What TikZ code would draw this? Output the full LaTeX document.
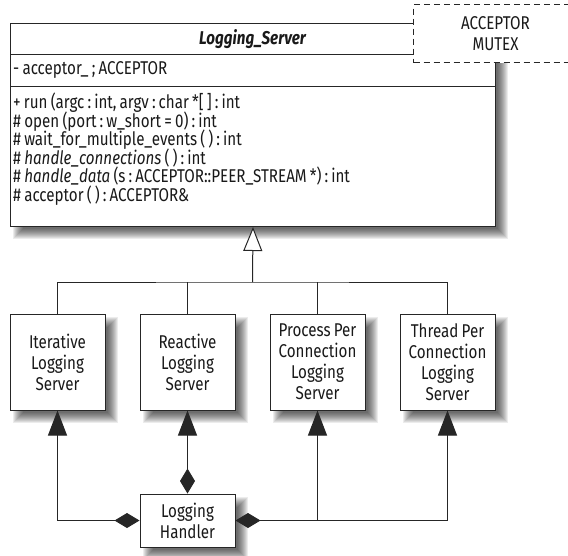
\documentclass[tikz,border=0pt]{standalone}
\usepackage{fontspec}
\setmainfont{Fira Sans}[FakeStretch=0.82, WordSpace=0.8]
\usetikzlibrary{arrows.meta}
\newcommand\myshadow[4]{%
  \foreach \k in {0,...,10}{%
    \fill[black,opacity=0.075] ({#1+8-5+\k},{#2+8-5+\k}) rectangle ({#3+8+5-\k},{#4+8+5-\k});}}
\begin{document}
\begin{tikzpicture}[x=1pt,y=-1pt,
  txt/.style={font=\fontsize{18.5}{21}\selectfont, text=black!90, inner sep=0pt},
  boxline/.style={draw=black!85, line width=1pt},
  cls/.style={boxline, fill=white, minimum width=95pt, minimum height=96pt, align=center, txt},
  meth/.style={txt, anchor=west, text height=13pt, text depth=4pt},
  tipf/.style={-{Triangle[width=19pt,length=25pt]}},
  dia/.style={{Diamond[width=15pt,length=25pt]}-{Triangle[width=19pt,length=25pt]}},
  conn/.style={draw=black!85, line width=1pt}
]
\useasboundingbox (0,0) rectangle (568,555);
% shadows
\myshadow{10}{23}{495}{226}
\myshadow{10}{314}{105}{410}
\myshadow{140}{314}{235}{410}
\myshadow{270}{314}{365}{410}
\myshadow{400}{314}{495}{410}
\myshadow{140}{494}{235}{547}
% main class
\node[boxline, fill=white, minimum width=485pt, minimum height=203pt, anchor=north west, inner sep=0pt] (server) at (10,23) {};
\draw[boxline] (10,54) -- (495,54);
\draw[boxline] (10,86) -- (495,86);
\node[txt, font=\fontsize{18.5}{21}\selectfont\bfseries\itshape] (title) at (252.5,39) {Logging\_Server};
\node[meth] (attr) at (13,70) {- acceptor\_ ;\,ACCEPTOR};
\node[meth] (m1) at (13,104) {+ run (argc\,:\,int,\,argv\,:\,char *[\,]\,:\,int};
\node[meth] (m2) at (13,122.5) {\# open (port\,:\,w\_short = 0)\,:\,int};
\node[meth] (m3) at (13,141) {\# wait\_for\_multiple\_events (\,)\,:\,int};
\node[meth] (m4) at (13,159.5) {\# \textit{handle\_connections} (\,)\,:\,int};
\node[meth] (m5) at (13,178) {\# \textit{handle\_data} (s\,:\,ACCEPTOR::PEER\_STREAM *)\,:\,int};
\node[meth] (m6) at (13,196.5) {\# acceptor (\,)\,:\,ACCEPTOR\&};
% template parameter box
\node[draw=black!85, line width=1pt, dash pattern=on 6pt off 4pt, fill=white, minimum width=164pt, minimum height=58pt, anchor=north west, align=center, txt] (mutex) at (413,4) {ACCEPTOR\\MUTEX};
% subclasses
\node[cls] (iter) at (57.5,362) {Iterative\\Logging\\Server};
\node[cls] (reac) at (187.5,362) {Reactive\\Logging\\Server};
\node[cls] (proc) at (317.5,362) {Process Per\\Connection\\Logging\\Server};
\node[cls] (thread) at (447.5,362) {Thread Per\\Connection\\Logging\\Server};
\node[cls, minimum height=53pt] (handler) at (187.5,520.5) {Logging\\Handler};
% inheritance
\coordinate (bar) at (252.5,282);
\draw[conn] (iter.north) |- (bar) -| (thread.north);
\draw[conn] (reac.north) -- (reac.north |- bar);
\draw[conn] (proc.north) -- (proc.north |- bar);
\draw[conn, -{Triangle[open, width=19pt, length=24pt, fill=white]}] (bar) -- (server.south);
% composition
\draw[conn, dia] (handler.north) -- (reac.south);
\draw[conn, dia] (handler.west) -| (iter.south);
\draw[conn, dia] (handler.east) -| (thread.south);
\coordinate (j) at (proc.south |- handler.east);
\draw[conn, tipf] (j) -- (proc.south);
\end{tikzpicture}
\end{document}
